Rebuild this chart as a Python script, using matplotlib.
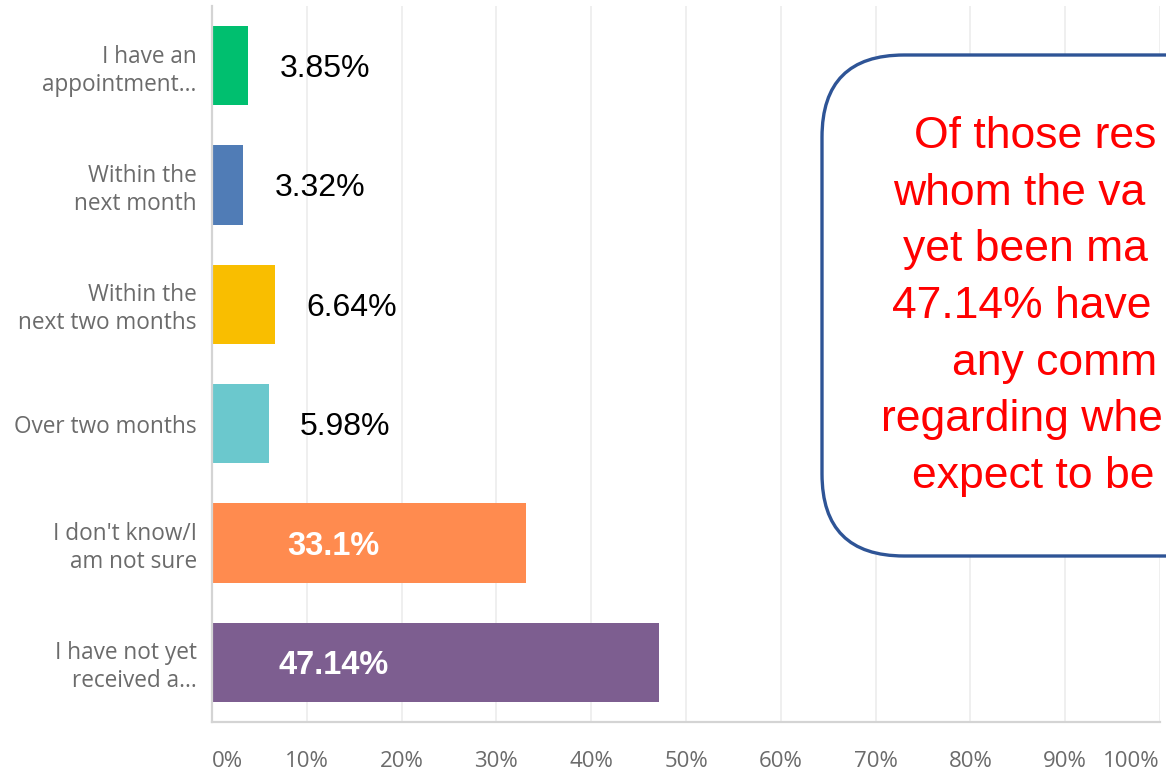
import matplotlib
matplotlib.use("Agg")
import matplotlib.pyplot as plt
from matplotlib.patches import FancyBboxPatch

categories = ["I have an\nappointment...", "Within the\nnext month", "Within the\nnext two months",
              "Over two months", "I don't know/I\nam not sure", "I have not yet\nreceived a..."]
values = [3.85, 3.32, 6.64, 5.98, 33.1, 47.14]
value_labels = ["3.85%", "3.32%", "6.64%", "5.98%", "33.1%", "47.14%"]
colors = ["#00BF6F", "#507CB6", "#F9BE00", "#6BC8CD", "#FF8B4F", "#7D5E90"]
inside = [False, False, False, False, True, True]
xticks = [0, 10, 20, 30, 40, 50, 60, 70, 80, 90, 100]
xtick_labels = ["0%", "10%", "20%", "30%", "40%", "50%", "60%", "70%", "80%", "90%", "100%"]
# visible part of the callout text (the box runs past the right edge of the image)
callout_lines = ["Of those res", "whom the va", "yet been ma", "47.14% have",
                 "any comm", "regarding whe", "expect to be"]

W, H = 1166, 771
fig = plt.figure(figsize=(W / 100, H / 100), dpi=100)
ax = fig.add_axes([212 / W, 1 - 722 / H, (1160 - 212) / W, (722 - 6) / H])

n = len(categories)
ypos = [n - 1 - i for i in range(n)]
ax.barh(ypos, values, height=0.665, color=colors, zorder=2)
ax.set_xlim(0, 100)
ax.set_ylim(-0.5, n - 0.5)

ax.set_yticks(ypos)
ax.set_yticklabels(categories, family="Open Sans", fontsize=16.3, color="#6b6b6b",
                   linespacing=1.22)
ax.set_xticks(xticks)
ax.set_xticklabels(xtick_labels, family="Open Sans", fontsize=16, color="#6b6b6b")
xt = ax.get_xticklabels()
xt[0].set_ha("left")
xt[-1].set_ha("right")
ax.tick_params(axis="both", length=0)
ax.tick_params(axis="y", pad=11)
ax.tick_params(axis="x", pad=21)

ax.grid(axis="x", color="#ececec", linewidth=1.2, zorder=0)
for s in ["top", "right"]:
    ax.spines[s].set_visible(False)
for s in ["left", "bottom"]:
    ax.spines[s].set_color("#d4d4d4")
    ax.spines[s].set_linewidth(1.6)

for y, v, lab, ins in zip(ypos, values, value_labels, inside):
    if ins:
        ax.text(12.85, y, lab, ha="center", va="center_baseline", color="white",
                fontsize=23.5, fontweight="bold", family="Liberation Sans", zorder=3)
    else:
        ax.annotate(lab, xy=(v, y), xytext=(22.5, 0), textcoords="offset points",
                    ha="left", va="center_baseline", color="black", fontsize=23,
                    family="Liberation Sans", zorder=3)

# overlay for callout, in pixel coordinates
ov = fig.add_axes([0, 0, 1, 1], zorder=5)
ov.set_xlim(0, W)
ov.set_ylim(H, 0)
ov.axis("off")
ov.patch.set_alpha(0)
box = FancyBboxPatch((822, 55), 680, 501, boxstyle="round,pad=0,rounding_size=82",
                     facecolor="white", edgecolor="#2E5496", linewidth=2.4)
ov.add_patch(box)
line_left = [914, 893, 903, 892, 952, 881, 912]
for i, (txt, xl) in enumerate(zip(callout_lines, line_left)):
    ov.text(xl, 148 + i * 56.7, txt, ha="left", va="baseline", color="#FF0000",
            fontsize=32, family="Liberation Sans")

fig.savefig("out.png", dpi=100)
